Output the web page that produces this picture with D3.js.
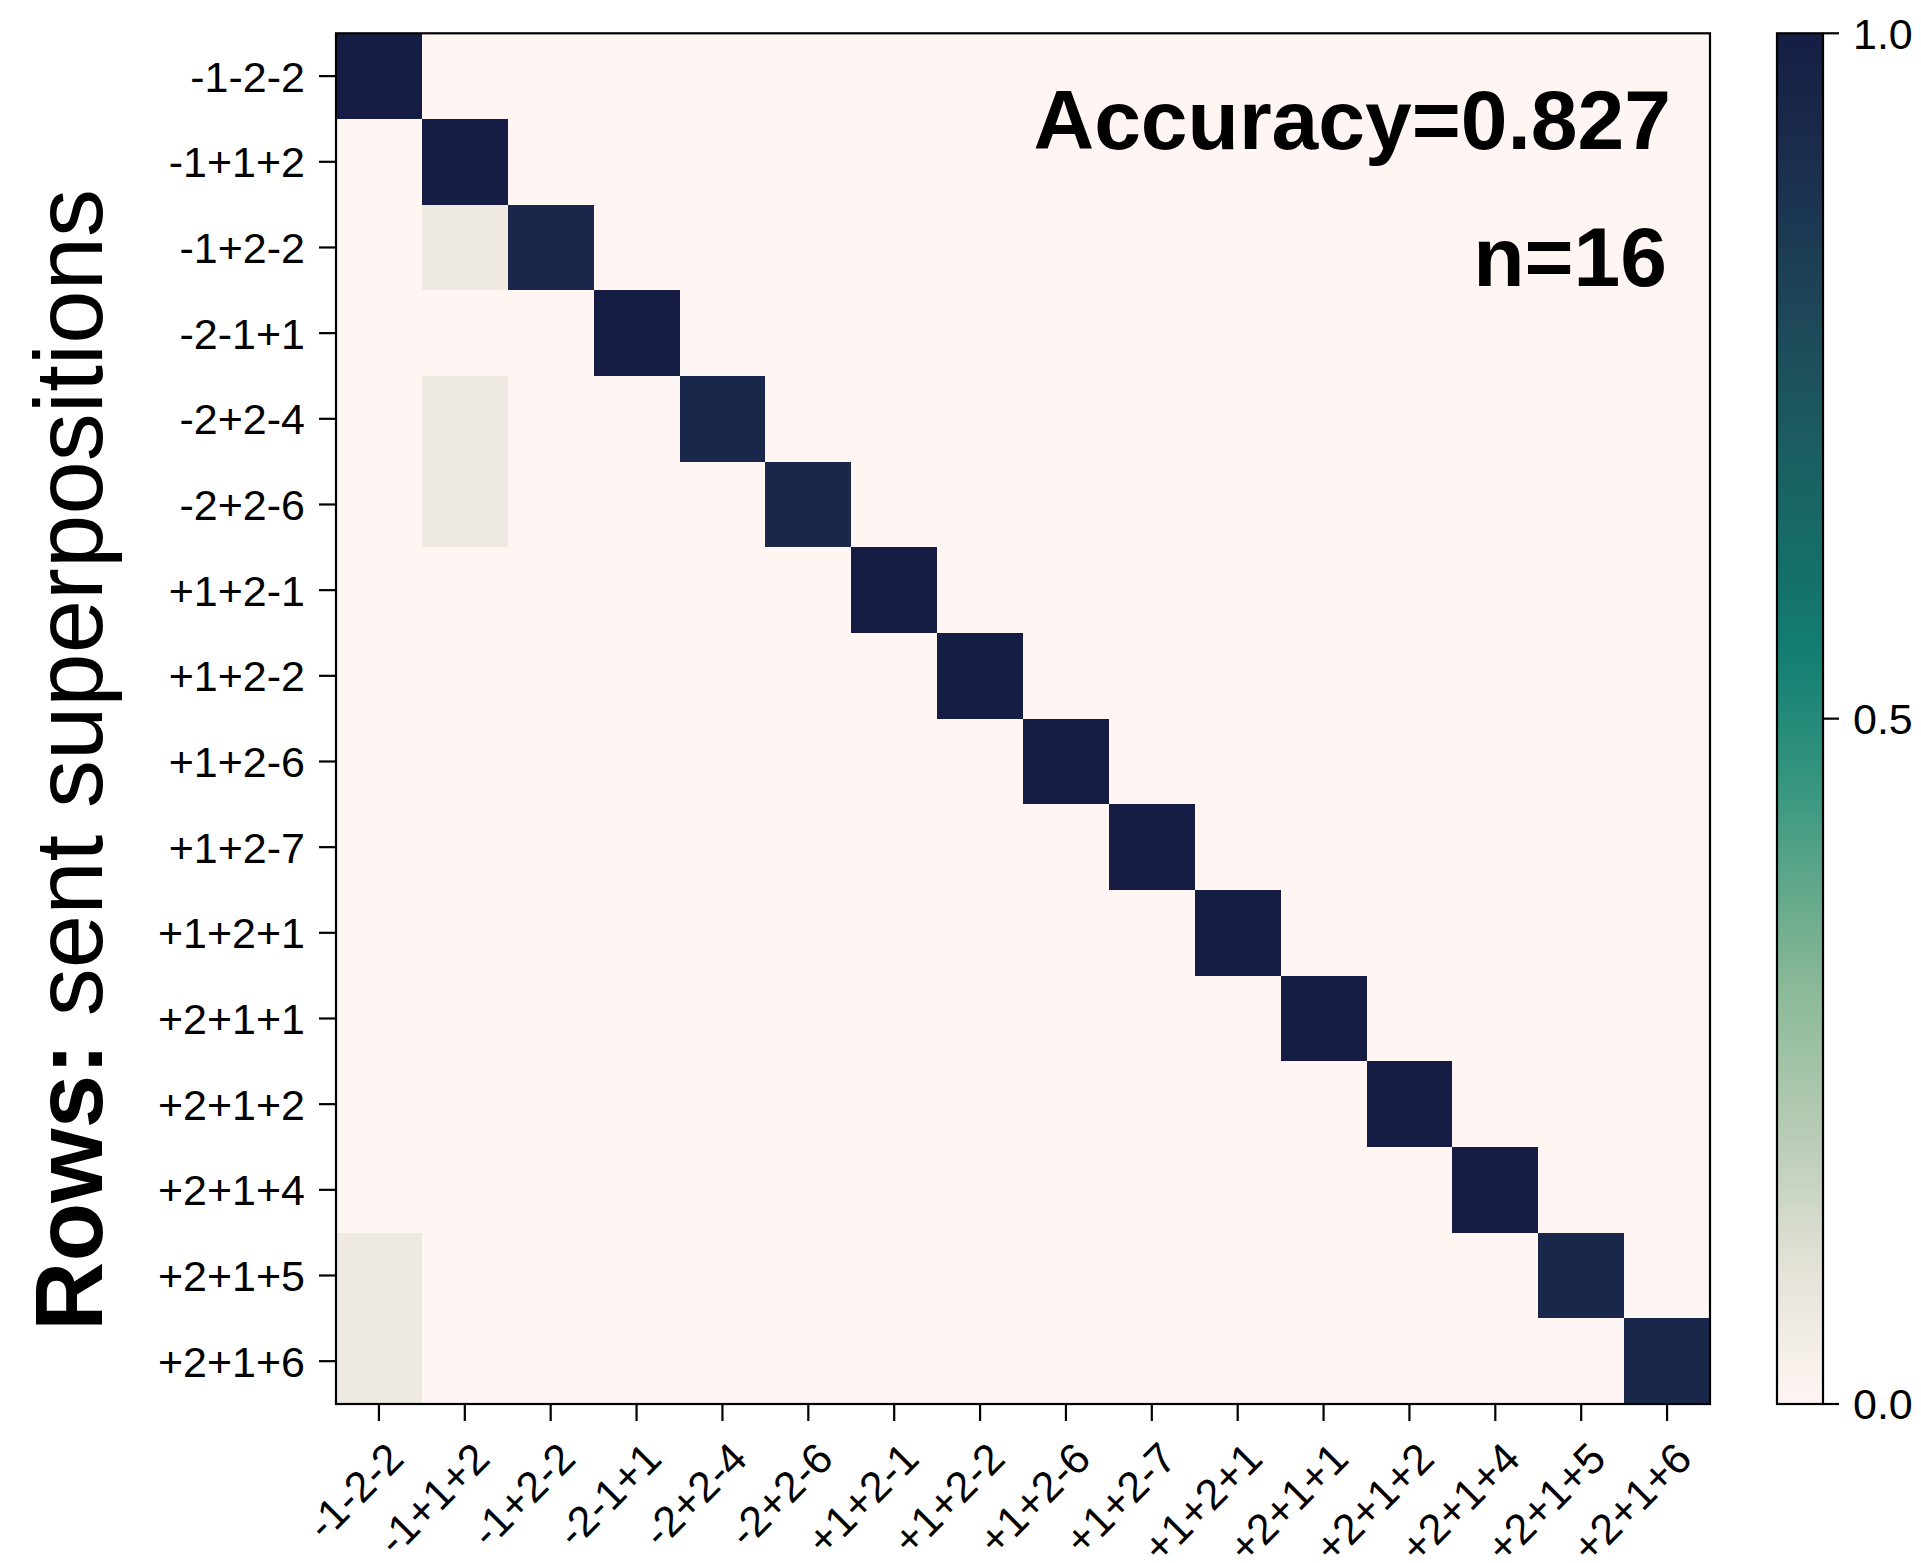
<!DOCTYPE html>
<html>
<head>
<meta charset="utf-8">
<script src="https://cdn.jsdelivr.net/npm/d3@7"></script>
<style>
  html, body { margin: 0; padding: 0; background: #ffffff; }
  svg { display: block; }
  text { font-family: "Liberation Sans", Arial, Helvetica, sans-serif; fill: #000; }
</style>
</head>
<body>
<svg id="chart" width="1921" height="1563"></svg>
<script>
// Superposition labels, shared by rows (sent) and columns (received)
const superpositions = ["-1-2-2", "-1+1+2", "-1+2-2", "-2-1+1", "-2+2-4", "-2+2-6",
  "+1+2-1", "+1+2-2", "+1+2-6", "+1+2-7", "+1+2+1", "+2+1+1", "+2+1+2",
  "+2+1+4", "+2+1+5", "+2+1+6"];

// Row-normalised confusion rates (row = sent, column = decoded)
const rates = [
  [1, 0, 0, 0, 0, 0, 0, 0, 0, 0, 0, 0, 0, 0, 0, 0],
  [0, 1, 0, 0, 0, 0, 0, 0, 0, 0, 0, 0, 0, 0, 0, 0],
  [0, 0.0625, 0.9375, 0, 0, 0, 0, 0, 0, 0, 0, 0, 0, 0, 0, 0],
  [0, 0, 0, 1, 0, 0, 0, 0, 0, 0, 0, 0, 0, 0, 0, 0],
  [0, 0.0625, 0, 0, 0.9375, 0, 0, 0, 0, 0, 0, 0, 0, 0, 0, 0],
  [0, 0.0625, 0, 0, 0, 0.9375, 0, 0, 0, 0, 0, 0, 0, 0, 0, 0],
  [0, 0, 0, 0, 0, 0, 1, 0, 0, 0, 0, 0, 0, 0, 0, 0],
  [0, 0, 0, 0, 0, 0, 0, 1, 0, 0, 0, 0, 0, 0, 0, 0],
  [0, 0, 0, 0, 0, 0, 0, 0, 1, 0, 0, 0, 0, 0, 0, 0],
  [0, 0, 0, 0, 0, 0, 0, 0, 0, 1, 0, 0, 0, 0, 0, 0],
  [0, 0, 0, 0, 0, 0, 0, 0, 0, 0, 1, 0, 0, 0, 0, 0],
  [0, 0, 0, 0, 0, 0, 0, 0, 0, 0, 0, 1, 0, 0, 0, 0],
  [0, 0, 0, 0, 0, 0, 0, 0, 0, 0, 0, 0, 1, 0, 0, 0],
  [0, 0, 0, 0, 0, 0, 0, 0, 0, 0, 0, 0, 0, 1, 0, 0],
  [0.0625, 0, 0, 0, 0, 0, 0, 0, 0, 0, 0, 0, 0, 0, 0.9375, 0],
  [0.0625, 0, 0, 0, 0, 0, 0, 0, 0, 0, 0, 0, 0, 0, 0, 0.9375]
];

const accuracyText = "Accuracy=0.827";
const countText = "n=16";
const colorbarTicks = [0, 0.5, 1.0];

// Sequential colormap (light blush -> sage -> teal -> navy)
const cmapStops = [0, 0.1, 0.2, 0.3, 0.35, 0.4, 0.45, 0.5, 0.55, 0.6, 0.7, 0.8, 0.9, 1.0];
const cmapColors = ["#fff6f4", "#e4e2d7", "#b6cbb3", "#8cba98", "#70ae8f", "#54a387",
  "#37977f", "#248a79", "#137d71", "#14716a", "#1b5d62", "#1d4658", "#1b2f4e", "#151d44"];

const svg = d3.select("#chart");
const font = '"Liberation Sans", Arial, Helvetica, sans-serif';

// Heatmap frame
const plot = { left: 336, right: 1710, top: 33.3, bottom: 1404 };
const x = d3.scaleBand().domain(d3.range(superpositions.length)).range([plot.left, plot.right]).padding(0);
const y = d3.scaleBand().domain(d3.range(superpositions.length)).range([plot.top, plot.bottom]).padding(0);
const color = d3.scaleLinear().domain(cmapStops).range(cmapColors).interpolate(d3.interpolateRgb).clamp(true);

const cells = [];
rates.forEach((row, i) => row.forEach((v, j) => cells.push({ i, j, v })));

svg.append("g")
  .selectAll("rect")
  .data(cells)
  .join("rect")
  .attr("x", d => x(d.j))
  .attr("y", d => y(d.i))
  .attr("width", x.bandwidth() + 0.5)
  .attr("height", y.bandwidth() + 0.5)
  .attr("fill", d => color(d.v))
  .attr("shape-rendering", "crispEdges");

svg.append("rect")
  .attr("x", plot.left).attr("y", plot.top)
  .attr("width", plot.right - plot.left).attr("height", plot.bottom - plot.top)
  .attr("fill", "none").attr("stroke", "#000").attr("stroke-width", 2.2);

// Left axis: sent superpositions
const yTickLen = 17;
const yAxis = svg.append("g");
yAxis.selectAll("line")
  .data(superpositions)
  .join("line")
  .attr("x1", plot.left - yTickLen).attr("x2", plot.left)
  .attr("y1", (d, i) => y(i) + y.bandwidth() / 2)
  .attr("y2", (d, i) => y(i) + y.bandwidth() / 2)
  .attr("stroke", "#000").attr("stroke-width", 2.2);
yAxis.selectAll("text")
  .data(superpositions)
  .join("text")
  .attr("x", 305)
  .attr("y", (d, i) => y(i) + y.bandwidth() / 2 + 15.4)
  .attr("text-anchor", "end")
  .attr("font-size", 43)
  .text(d => d);

// Bottom axis: decoded superpositions, rotated labels
const xTickLen = 17;
const xAxis = svg.append("g");
xAxis.selectAll("line")
  .data(superpositions)
  .join("line")
  .attr("x1", (d, i) => x(i) + x.bandwidth() / 2)
  .attr("x2", (d, i) => x(i) + x.bandwidth() / 2)
  .attr("y1", plot.bottom).attr("y2", plot.bottom + xTickLen)
  .attr("stroke", "#000").attr("stroke-width", 2.2);
xAxis.selectAll("text")
  .data(superpositions)
  .join("text")
  .attr("transform", (d, i) => `translate(${x(i) + x.bandwidth() / 2 + 27},${plot.bottom + 57}) rotate(-45)`)
  .attr("text-anchor", "end")
  .attr("font-size", 43)
  .text(d => d);

// Y axis title
const yTitle = svg.append("text")
  .attr("transform", "translate(102,760) rotate(-90)")
  .attr("text-anchor", "middle")
  .attr("font-size", 96);
yTitle.append("tspan").attr("font-weight", "bold").text("Rows:");
yTitle.append("tspan").text(" sent superpositions");

// Annotations inside the matrix
svg.append("text")
  .attr("x", 1671).attr("y", 149)
  .attr("text-anchor", "end")
  .attr("font-size", 84).attr("font-weight", "bold")
  .text(accuracyText);
svg.append("text")
  .attr("x", 1667).attr("y", 286)
  .attr("text-anchor", "end")
  .attr("font-size", 84).attr("font-weight", "bold")
  .text(countText);

// Colorbar
const cb = { left: 1777, right: 1823, top: 33.3, bottom: 1404 };
const cbScale = d3.scaleLinear().domain([0, 1]).range([cb.bottom, cb.top]);
const defs = svg.append("defs");
const grad = defs.append("linearGradient")
  .attr("id", "cbgrad")
  .attr("x1", 0).attr("y1", 1).attr("x2", 0).attr("y2", 0);
grad.selectAll("stop")
  .data(d3.range(0, 1.0001, 0.02))
  .join("stop")
  .attr("offset", d => d)
  .attr("stop-color", d => color(d));

svg.append("rect")
  .attr("x", cb.left).attr("y", cb.top)
  .attr("width", cb.right - cb.left).attr("height", cb.bottom - cb.top)
  .attr("fill", "url(#cbgrad)")
  .attr("stroke", "#000").attr("stroke-width", 2.2);

const cbAxis = svg.append("g");
cbAxis.selectAll("line")
  .data(colorbarTicks)
  .join("line")
  .attr("x1", cb.right).attr("x2", cb.right + 16)
  .attr("y1", d => cbScale(d)).attr("y2", d => cbScale(d))
  .attr("stroke", "#000").attr("stroke-width", 2.2);
cbAxis.selectAll("text")
  .data(colorbarTicks)
  .join("text")
  .attr("x", 1853)
  .attr("y", d => cbScale(d) + 15.4)
  .attr("font-size", 43)
  .text(d => d3.format(".1f")(d));
</script>
</body>
</html>
